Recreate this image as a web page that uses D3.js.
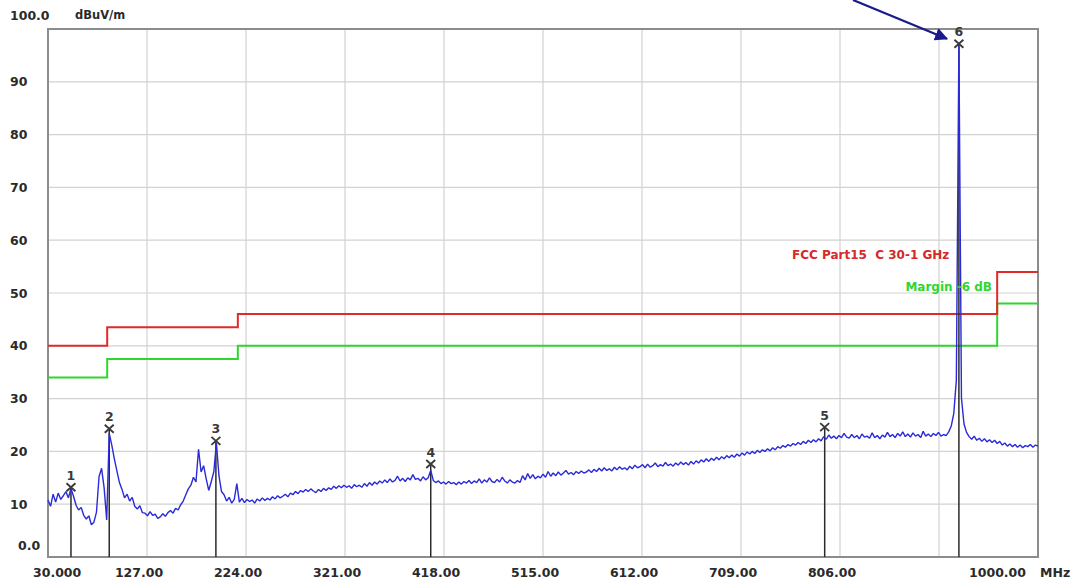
<!DOCTYPE html>
<html>
<head>
<meta charset="utf-8">
<script src="https://cdn.jsdelivr.net/npm/d3@7"></script>
<style>
  html, body { margin: 0; padding: 0; background: #fff; }
  svg text { font-family: "DejaVu Sans", sans-serif; font-weight: bold; }
</style>
</head>
<body>
<svg id="chart" width="1075" height="585"></svg>
<script>
// sweep: 30 MHz .. 1000 MHz, one reading every 2.5 MHz (rows of 25 MHz)
const sweepStart = 30, sweepStep = 2.5;
const levels = [
  10.8, 9.6, 11.9, 10.4, 12.1, 10.9, 11.6, 12.4, 11.2, 13.0,
  11.5, 9.8, 8.9, 9.4, 7.9, 7.2, 7.8, 6.1, 6.6, 8.5,
  15.2, 16.8, 13.1, 7.0, 23.4, 21.2, 18.6, 16.3, 14.1, 12.8,
  11.2, 11.9, 10.6, 11.3, 9.6, 9.1, 9.7, 8.4, 8.3, 7.8,
  8.6, 7.9, 8.1, 7.3, 7.6, 8.2, 7.7, 8.4, 8.8, 8.3,
  9.2, 8.9, 9.9, 10.6, 11.8, 12.9, 13.6, 15.1, 14.2, 20.4,
  16.1, 17.3, 14.8, 12.6, 14.3, 16.2, 21.6, 15.4, 12.4, 11.8,
  10.6, 11.3, 10.2, 10.9, 13.9, 10.4, 11.1, 10.3, 10.9, 10.5,
  10.8, 10.2, 11.0, 10.6, 11.2, 10.7, 11.1, 10.8, 11.4, 11.0,
  11.6, 11.2, 11.5, 11.9, 11.4, 12.1, 11.8, 12.4, 12.0, 12.6,
  12.3, 12.8, 12.4, 12.9, 12.5, 12.2, 12.8, 12.4, 13.0, 12.6,
  13.1, 12.8, 13.4, 13.0, 13.5, 13.1, 13.6, 13.2, 13.5, 13.0,
  13.7, 13.3, 13.6, 13.2, 13.9, 13.4, 14.1, 13.6, 14.2, 13.8,
  14.4, 14.0, 14.6, 14.1, 14.8, 14.2, 14.5, 15.3, 14.4, 14.9,
  14.3, 15.0, 14.6, 15.6, 14.7, 14.9, 14.4, 15.2, 14.6, 15.0,
  16.4, 14.5, 14.1, 14.4, 13.9, 14.2, 13.8, 14.3, 13.9, 14.1,
  13.7, 14.2, 13.8, 14.3, 14.0, 14.5, 13.9, 14.4, 14.1, 14.8,
  14.0, 14.6, 14.2, 15.0, 14.3, 14.1, 14.7, 14.2, 15.1, 14.4,
  14.0, 14.6, 14.2, 14.0, 14.5, 14.1, 15.4, 14.6, 15.8, 14.9,
  15.6, 14.8, 15.3, 15.0, 15.7, 15.1, 16.2, 15.3, 15.9, 15.4,
  16.1, 15.5, 15.9, 16.4, 15.7, 16.0, 15.6, 16.2, 15.8, 16.3,
  15.9, 16.1, 16.5, 16.0, 16.6, 16.2, 16.8, 16.3, 16.9, 16.4,
  16.7, 16.3, 17.0, 16.5, 17.1, 16.6, 16.9, 16.5, 17.2, 16.7,
  17.4, 16.9, 17.1, 17.5, 16.9, 17.6, 17.0, 17.3, 17.8, 17.1,
  17.5, 17.2, 17.9, 17.3, 17.6, 17.2, 17.8, 17.4, 18.0, 17.5,
  17.9, 17.4, 18.1, 17.6, 18.2, 17.8, 18.4, 18.0, 18.6, 18.1,
  18.7, 18.3, 18.9, 18.4, 19.0, 18.6, 19.2, 18.8, 19.3, 18.9,
  19.5, 19.1, 19.7, 19.3, 19.9, 19.5, 20.0, 19.6, 20.2, 19.8,
  20.3, 20.0, 20.5, 20.1, 20.7, 20.3, 20.9, 20.6, 21.1, 20.8,
  21.3, 21.0, 21.5, 21.2, 21.7, 21.3, 21.9, 21.5, 22.1, 21.7,
  22.2, 21.8, 22.4, 22.0, 22.8, 22.3, 23.1, 22.5, 22.9, 22.4,
  23.0, 22.6, 23.4, 22.7, 22.5, 23.2, 22.6, 23.0, 22.4, 23.3,
  22.7, 22.9, 22.5, 23.5, 22.6, 23.0, 22.4, 23.1, 22.7, 23.6,
  22.8, 23.2, 22.6, 23.4, 22.9, 23.7, 22.8, 23.3, 22.7, 23.5,
  22.9, 23.2, 22.6, 23.8, 22.9, 23.3, 22.8, 23.4, 23.0, 23.6,
  22.9, 23.2, 23.0, 23.7, 24.8, 27.2, 33.5, 97.2, 30.1, 25.2,
  23.6, 22.8, 22.3, 22.9, 22.1, 22.5, 21.9, 22.4, 21.8, 22.2,
  21.7, 22.1, 21.5, 21.9, 21.2, 21.6, 21.0, 21.4, 20.9, 21.3,
  20.8, 21.2, 20.7, 21.1, 20.9, 21.3, 20.8, 21.2, 21.0
];

// FCC Part 15 class B limit (step edges in MHz) and the -6 dB margin line
const limitEdges = [30, 88, 216, 960, 1000];
const limitLevels = [40, 43.5, 46, 54];
const marginLevels = [34, 37.5, 40, 48];

// peak markers
const markerNo = [1, 2, 3, 4, 5, 6];
const markerMHz = [52.5, 90.0, 194.5, 405.0, 791.0, 922.5];
const markerLevel = [13.2, 24.3, 22.0, 17.6, 24.6, 97.2];

// axis ticks
const xTicks = [30, 127, 224, 321, 418, 515, 612, 709, 806, 903, 1000];
const xTickLabels = ['30.000', '127.00', '224.00', '321.00', '418.00', '515.00', '612.00', '709.00', '806.00', '', '1000.00'];
const yTicks = [0, 10, 20, 30, 40, 50, 60, 70, 80, 90, 100];
const yTickLabels = ['0.0', '10', '20', '30', '40', '50', '60', '70', '80', '90', '100.0'];

const svg = d3.select('#chart');
const plotL = 48, plotR = 1038, plotT = 29, plotB = 557;

const x = d3.scaleLinear().domain([30, 1000]).range([plotL, plotR]);
const y = d3.scaleLinear().domain([0, 100]).range([plotB, plotT]);

// grid
const grid = svg.append('g').attr('stroke', '#d2d2d2').attr('stroke-width', 1.2);
grid.selectAll('line.v')
  .data(xTicks.slice(1, -1))
  .join('line')
  .attr('class', 'v')
  .attr('x1', d => x(d)).attr('x2', d => x(d))
  .attr('y1', plotT).attr('y2', plotB);
grid.selectAll('line.h')
  .data(yTicks.slice(1, -1))
  .join('line')
  .attr('class', 'h')
  .attr('x1', plotL).attr('x2', plotR)
  .attr('y1', d => y(d)).attr('y2', d => y(d));

// frame
svg.append('rect')
  .attr('x', plotL).attr('y', plotT)
  .attr('width', plotR - plotL).attr('height', plotB - plotT)
  .attr('fill', 'none').attr('stroke', '#8c8c8c').attr('stroke-width', 2);

// limit + margin step lines
const stepPts = lv => {
  const pts = [];
  lv.forEach((v, i) => {
    pts.push([limitEdges[i], v]);
    pts.push([limitEdges[i + 1], v]);
  });
  return pts;
};
const stepLine = d3.line().x(d => x(d[0])).y(d => y(d[1]));
svg.append('path').attr('d', stepLine(stepPts(marginLevels)))
  .attr('fill', 'none').attr('stroke', '#2fd62f').attr('stroke-width', 2);
svg.append('path').attr('d', stepLine(stepPts(limitLevels)))
  .attr('fill', 'none').attr('stroke', '#e02a2a').attr('stroke-width', 2);

// marker drop lines
const markers = markerNo.map((n, i) => ({ n, f: markerMHz[i], v: markerLevel[i] }));
svg.append('g').selectAll('line')
  .data(markers)
  .join('line')
  .attr('x1', d => x(d.f)).attr('x2', d => x(d.f))
  .attr('y1', plotB).attr('y2', d => y(d.v))
  .attr('stroke', '#2a2a2a').attr('stroke-width', 1.5);

// spectrum trace
const trace = levels.map((v, i) => [sweepStart + i * sweepStep, v]);
svg.append('path')
  .attr('d', d3.line().x(d => x(d[0])).y(d => y(d[1]))(trace))
  .attr('fill', 'none').attr('stroke', '#2a2ad8').attr('stroke-width', 1.4)
  .attr('stroke-linejoin', 'bevel');

// marker crosses and numbers
const mk = svg.append('g').selectAll('g')
  .data(markers)
  .join('g')
  .attr('transform', d => `translate(${x(d.f)},${y(d.v)})`);
mk.append('path')
  .attr('d', 'M-4.5,-4L4.5,4M-4.5,4L4.5,-4')
  .attr('stroke', '#3a3a3a').attr('stroke-width', 1.9);
mk.append('text')
  .attr('y', -7.5)
  .attr('text-anchor', 'middle')
  .attr('font-size', 12.5)
  .attr('fill', '#3a3a3a')
  .text(d => d.n);

// y labels
svg.append('g').selectAll('text')
  .data(yTicks.map((v, i) => ({ v, t: yTickLabels[i] })))
  .join('text')
  .attr('x', d => d.v === 0 ? 18 : 10)
  .attr('y', d => d.v === 100 ? 15 : d.v === 0 ? y(d.v) - 12 : y(d.v))
  .attr('dy', '0.36em')
  .attr('font-size', 12.5)
  .attr('fill', '#2a2a2a')
  .text(d => d.t);
svg.append('text')
  .attr('x', 75).attr('y', 15).attr('dy', '0.36em')
  .attr('font-size', 11.5).attr('fill', '#2a2a2a')
  .text('dBuV/m');

// x labels
svg.append('g').selectAll('text')
  .data(xTicks.map((v, i) => ({ v, t: xTickLabels[i], i })))
  .join('text')
  .attr('x', d => d.i === 0 ? 33 : d.i === xTicks.length - 1 ? x(d.v) - 12 : x(d.v) - 8)
  .attr('y', 572).attr('dy', '0.36em')
  .attr('text-anchor', d => d.i === 0 ? 'start' : d.i === xTicks.length - 1 ? 'end' : 'middle')
  .attr('font-size', 12.5)
  .attr('fill', '#2a2a2a')
  .text(d => d.t);
svg.append('text')
  .attr('x', 1040).attr('y', 572).attr('dy', '0.36em')
  .attr('font-size', 12.5).attr('fill', '#2a2a2a')
  .text('MHz');

// legend labels
svg.append('text')
  .attr('x', 792).attr('y', 255).attr('dy', '0.36em')
  .attr('font-size', 12).attr('fill', '#d42a2a')
  .style('white-space', 'pre')
  .text('FCC Part15  C 30-1 GHz');
svg.append('text')
  .attr('x', 992).attr('y', 287).attr('dy', '0.36em')
  .attr('text-anchor', 'end')
  .attr('font-size', 12).attr('fill', '#2fd62f')
  .text('Margin -6 dB');

// annotation arrow
svg.append('defs').append('marker')
  .attr('id', 'head')
  .attr('viewBox', '0 0 10 10')
  .attr('refX', 9).attr('refY', 5)
  .attr('markerWidth', 6).attr('markerHeight', 6)
  .attr('markerUnits', 'strokeWidth')
  .attr('orient', 'auto')
  .append('path').attr('d', 'M0,0L10,5L0,10Z').attr('fill', '#1a1a8a');
svg.append('line')
  .attr('x1', 853).attr('y1', 0)
  .attr('x2', x(markerMHz[5]) - 12).attr('y2', y(markerLevel[5]) - 5)
  .attr('stroke', '#1a1a8a').attr('stroke-width', 2.2)
  .attr('marker-end', 'url(#head)');
</script>
</body>
</html>
